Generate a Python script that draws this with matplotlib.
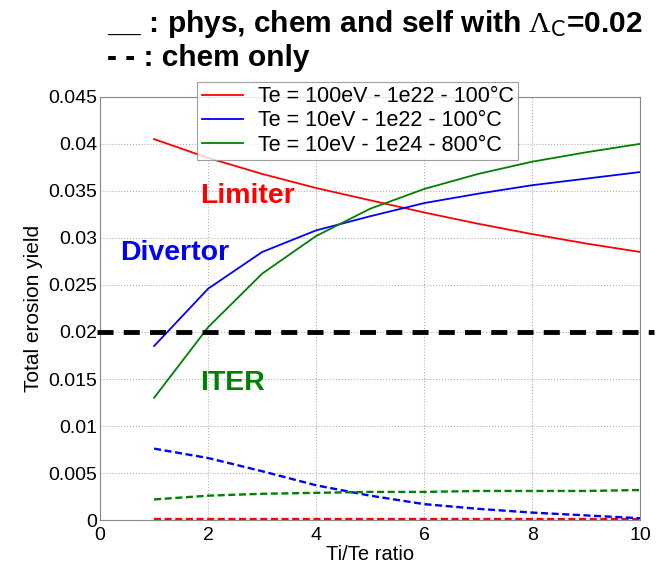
import matplotlib
matplotlib.use("Agg")
import matplotlib.pyplot as plt

x = [1, 2, 3, 4, 5, 6, 7, 8, 9, 10]
limiter_total = [0.0405, 0.0385, 0.0368, 0.0353, 0.0340, 0.0327, 0.0315, 0.0304, 0.0294, 0.0285]
divertor_total = [0.0185, 0.0246, 0.0285, 0.0308, 0.0323, 0.0337, 0.0347, 0.0356, 0.0363, 0.0370]
iter_total = [0.0130, 0.0205, 0.0262, 0.0302, 0.0331, 0.0352, 0.0368, 0.0381, 0.0391, 0.0400]
limiter_chem = [0.0001] * 10
divertor_chem = [0.0076, 0.0066, 0.0052, 0.0037, 0.0026, 0.0017, 0.0012, 0.0008, 0.0005, 0.0002]
iter_chem = [0.0022, 0.0026, 0.0028, 0.0029, 0.0030, 0.0030, 0.0031, 0.0031, 0.0031, 0.0032]
chem_level = 0.02
labels = ["Te = 100eV - 1e22 - 100°C", "Te = 10eV - 1e22 - 100°C", "Te = 10eV - 1e24 - 800°C"]
yticks = [0, 0.005, 0.01, 0.015, 0.02, 0.025, 0.03, 0.035, 0.04, 0.045]
yticklabels = ["0", "0.005", "0.01", "0.015", "0.02", "0.025", "0.03", "0.035", "0.04", "0.045"]
xticks = [0, 2, 4, 6, 8, 10]

plt.rcParams['font.family'] = ['Liberation Sans', 'DejaVu Sans']
plt.rcParams['mathtext.fontset'] = 'custom'
plt.rcParams['mathtext.rm'] = 'Liberation Serif'
plt.rcParams['mathtext.it'] = 'Liberation Serif'
plt.rcParams['mathtext.bf'] = 'Liberation Sans:bold'

fig = plt.figure(figsize=(6.67, 5.76), dpi=100)
ax = fig.add_axes([0.15, 0.097, 0.81, 0.735])

red, blue, green = '#ff0000', '#0000ff', '#008000'
l1, = ax.plot(x, limiter_total, color=red, lw=1.3)
l2, = ax.plot(x, divertor_total, color=blue, lw=1.3)
l3, = ax.plot(x, iter_total, color=green, lw=1.3)
ax.plot(x, limiter_chem, color=red, lw=1.7, ls=(0, (3, 1.5)))
ax.plot(x, divertor_chem, color=blue, lw=1.7, ls=(0, (3, 1.5)))
ax.plot(x, iter_chem, color=green, lw=1.7, ls=(0, (3, 1.5)))
ax.plot([-0.05, 10.25], [chem_level, chem_level], color='black', lw=3.5,
        ls=(0, (3.3, 2.1)), clip_on=False, zorder=5)

ax.set_xlim(0, 10)
ax.set_ylim(0, 0.045)
ax.set_xticks(xticks)
ax.set_yticks(yticks)
ax.set_yticklabels(yticklabels)
ax.tick_params(axis='y', labelsize=14, length=0, pad=2)
ax.tick_params(axis='x', labelsize=14, length=0, pad=5)
ax.grid(True, ls=':', color='#b0b0b0', lw=0.8)
for s in ax.spines.values():
    s.set_color('#888888')
ax.set_xlabel("Ti/Te ratio", fontsize=14.5, labelpad=1)
ax.set_ylabel("Total erosion yield", fontsize=15, labelpad=4)

leg = fig.legend([l1, l2, l3], labels, loc='upper left', bbox_to_anchor=(0.296, 0.858),
                 fontsize=15.5, frameon=True, fancybox=False, edgecolor='#888888',
                 handlelength=1.9, borderpad=0.2, labelspacing=0.15, handletextpad=0.7,
                 borderaxespad=0)
leg.get_frame().set_linewidth(0.8)

ax.text(1.85, 0.0337, "Limiter", color=red, fontsize=20.5, fontweight='bold')
ax.text(0.37, 0.0277, "Divertor", color=blue, fontsize=20.5, fontweight='bold')
ax.text(1.85, 0.0138, "ITER", color=green, fontsize=20.5, fontweight='bold')

fig.text(0.16, 0.945, "__ : phys, chem and self with $\\Lambda_\\mathsf{C}$=0.02", fontsize=21.5,
         fontweight='bold', va='baseline')
fig.text(0.16, 0.885, "- - : chem only", fontsize=21.5, fontweight='bold', va='baseline')

fig.savefig("out.png", dpi=100)
